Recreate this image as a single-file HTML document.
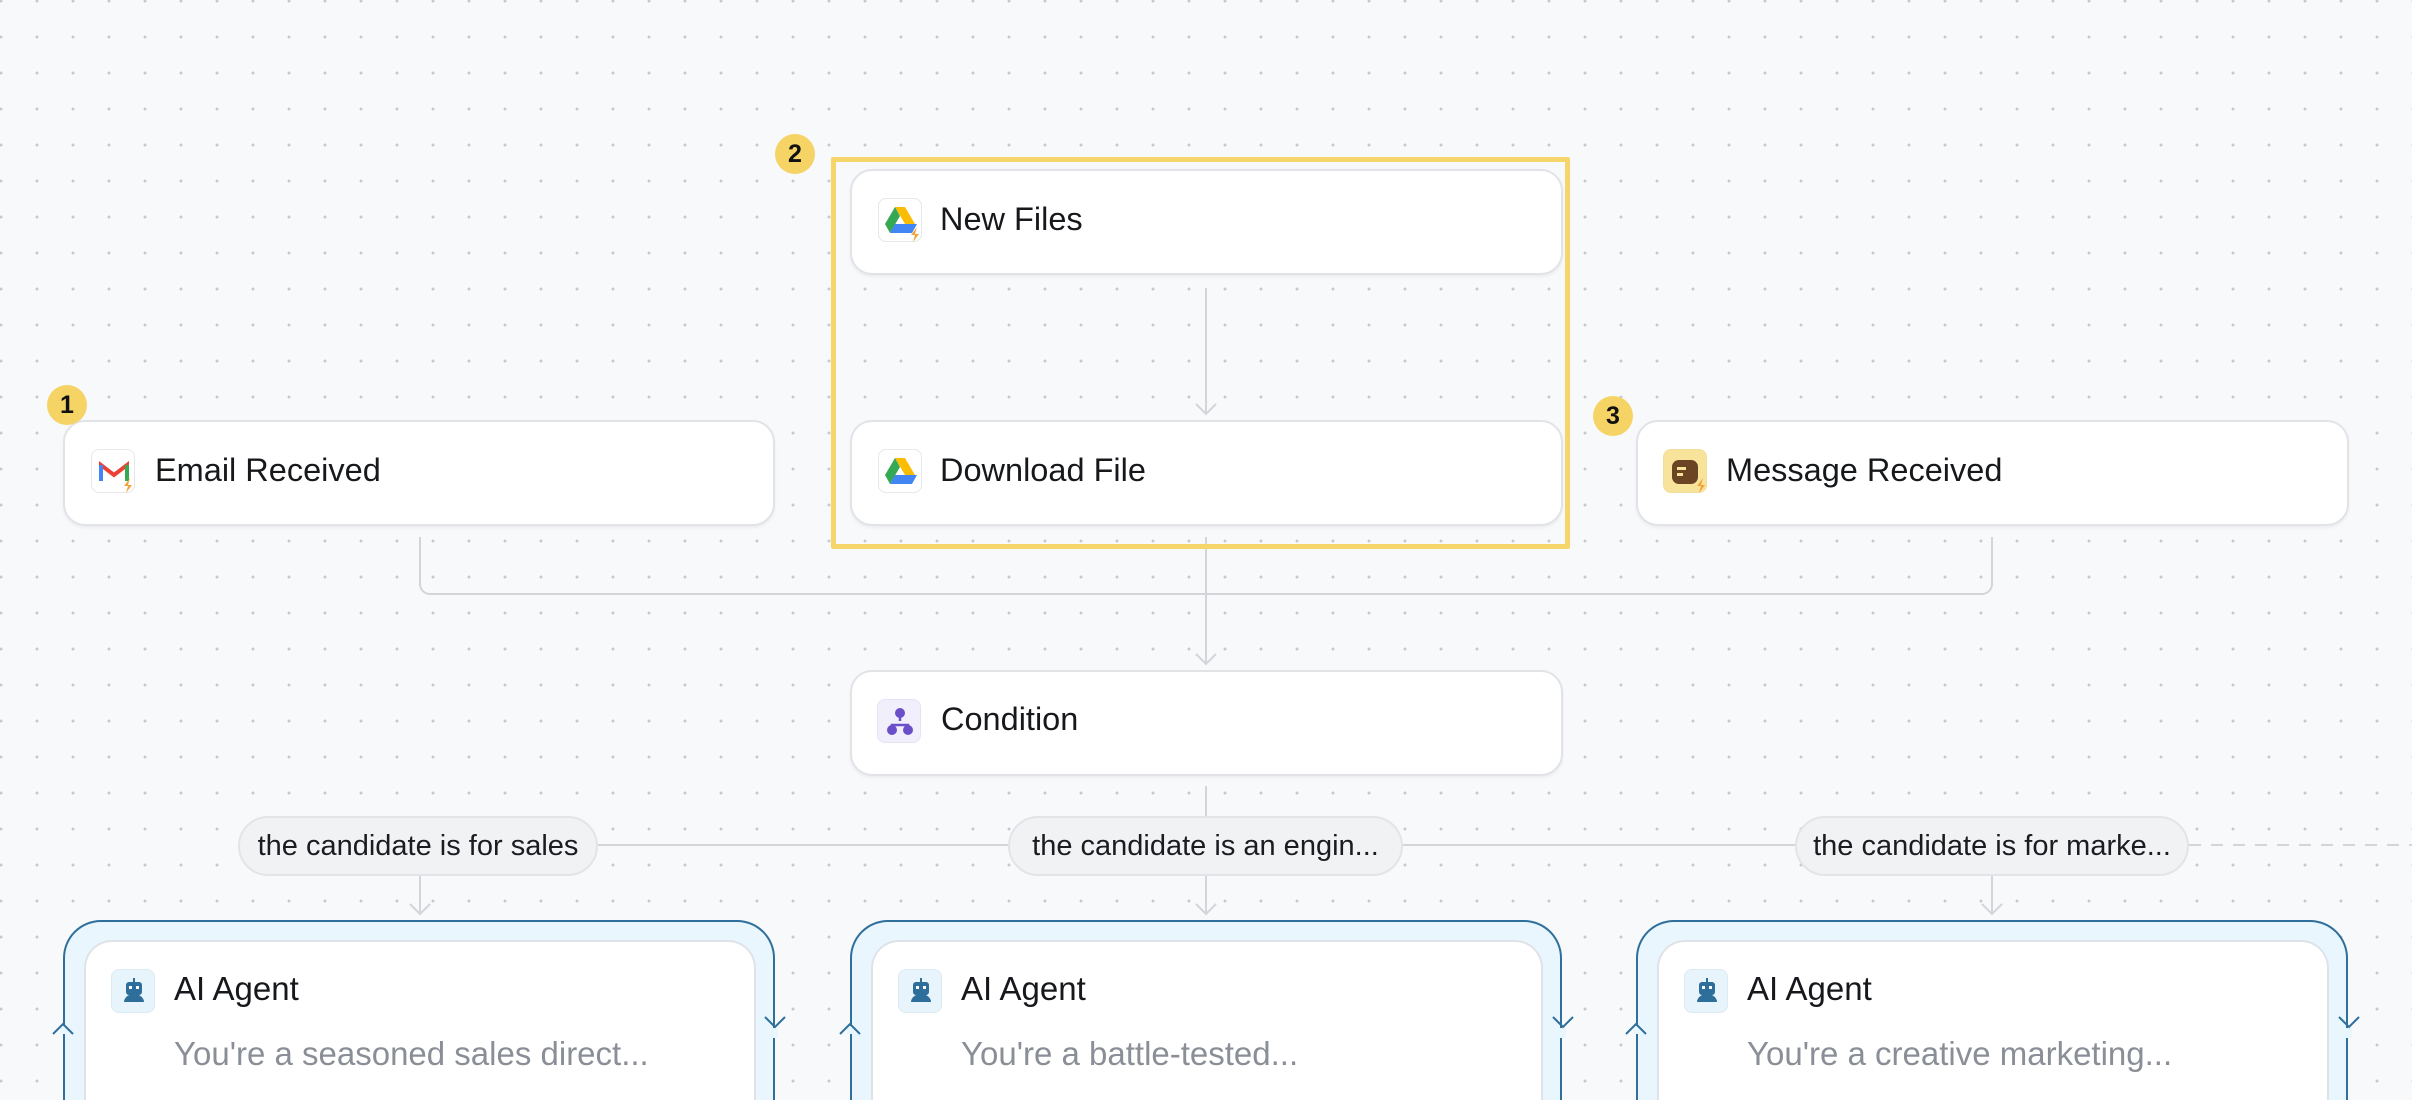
<!DOCTYPE html>
<html style="overflow:hidden;width:2412px;height:1100px"><head><meta charset="utf-8"><style>
*{margin:0;padding:0;box-sizing:border-box}
body{width:2412px;height:1100px;overflow:hidden;background:#f8f9fb;font-family:"Liberation Sans",sans-serif;position:relative}
#wrap{position:absolute;left:0;top:0;width:2412px;height:1100px;overflow:hidden;
background-image:radial-gradient(circle,#c5c9cf 1.3px,transparent 1.6px);background-size:36px 36px;background-position:-17px -17px}
.node{position:absolute;background:#fff;border:2px solid #e1e3e7;border-radius:22px;box-shadow:0 2px 3px rgba(0,0,0,.05)}
.t{position:absolute;font-size:32.5px;color:#16181c;white-space:nowrap}
.ic{position:absolute;width:44px;height:44px;border:1px solid #e6e8eb;border-radius:8px;background:#fff}
.badge{position:absolute;width:40px;height:40px;border-radius:50%;background:#f6d365;font-weight:bold;font-size:25px;text-align:center;line-height:40px;color:#111}
.pill{position:absolute;height:60px;border:2px solid #e2e4e7;background:#f1f2f4;border-radius:30px;font-size:29px;line-height:56px;text-align:center;color:#1a1c20;white-space:nowrap}
.grp{position:absolute;top:920px;width:712px;height:180px;border:2px solid #2f6f9b;border-bottom:none;border-radius:38px 38px 0 0;background:#e9f6fd}
.card{position:absolute;left:19px;top:18px;width:672px;height:160px;background:#fff;border:2px solid #dfe3e8;border-bottom:none;border-radius:28px 28px 0 0}
.sub{position:absolute;font-size:33px;color:#8a8f97;white-space:nowrap}
.ag{font-size:33px}
</style></head><body><div id="wrap">
<svg width="2412" height="1100" style="position:absolute;left:0;top:0" fill="none">
<g stroke="#d3d5d9" stroke-width="2">
<path d="M1206 288V414M1196 404l10 10 10-10"/>
<path d="M1206 537V664M1196 654l10 10 10-10"/>
<path d="M420 537V584a10 10 0 0 0 10 10H1206"/>
<path d="M1992 537V584a10 10 0 0 1-10 10H1206"/>
<path d="M1206 786V816"/>
<path d="M598 845H1008M1403 845H1795"/>
<path d="M2189 845H2412" stroke-dasharray="12 10"/>
<path d="M420 876V914M410 904l10 10 10-10"/>
<path d="M1206 876V914M1196 904l10 10 10-10"/>
<path d="M1992 876V914M1982 904l10 10 10-10"/>
</g>
</svg>
<div style="position:absolute;left:831px;top:157px;width:739px;height:392px;border:5px solid #f6d56a;border-radius:2px"></div>

<div class="node" style="left:63px;top:420px;width:712px;height:106px"></div>
<div class="ic" style="left:91px;top:449px"><svg width="44" height="44"><path d="M9 31V15l13 10 13-10v16" stroke="#ea4335" stroke-width="4" fill="none"/><path d="M9 15v16" stroke="#4285f4" stroke-width="4"/><path d="M35 15v16" stroke="#34a853" stroke-width="4"/><path d="M38 28l-6 8h4l-2 7 6-8h-4z" fill="#f3a33c"/></svg></div>
<div class="t" style="left:155px;top:452px">Email Received</div>
<div class="badge" style="left:47px;top:385px">1</div>

<div class="node" style="left:850px;top:169px;width:713px;height:106px"></div>
<div class="ic" style="left:878px;top:198px"><svg width="44" height="44"><path d="M16 8h10l10 17H26z" fill="#fbbc04"/><path d="M16 8L6 25l5 9 10-17z" fill="#34a853"/><path d="M11 34h22l5-9H16z" fill="#4285f4"/><path d="M38 28l-6 8h4l-2 7 6-8h-4z" fill="#f3a33c"/></svg></div>
<div class="t" style="left:940px;top:201px">New Files</div>
<div class="badge" style="left:775px;top:134px">2</div>

<div class="node" style="left:850px;top:420px;width:713px;height:106px"></div>
<div class="ic" style="left:878px;top:449px"><svg width="44" height="44"><path d="M16 8h10l10 17H26z" fill="#fbbc04"/><path d="M16 8L6 25l5 9 10-17z" fill="#34a853"/><path d="M11 34h22l5-9H16z" fill="#4285f4"/></svg></div>
<div class="t" style="left:940px;top:452px">Download File</div>

<div class="node" style="left:1636px;top:420px;width:713px;height:106px"></div>
<div class="ic" style="left:1663px;top:449px;background:#f8e39a;border-color:#f1de9a"><svg width="44" height="44"><rect x="8" y="10" width="26" height="24" rx="7" fill="#6b4424"/><rect x="13" y="17" width="9" height="3" fill="#f8e39a"/><rect x="13" y="23" width="6" height="3" fill="#f8e39a"/><path d="M39 28l-6 8h4l-2 7 6-8h-4z" fill="#f3a33c"/></svg></div>
<div class="t" style="left:1726px;top:452px">Message Received</div>
<div class="badge" style="left:1593px;top:396px">3</div>

<div class="node" style="left:850px;top:670px;width:713px;height:106px"></div>
<div class="ic" style="left:877px;top:699px;background:#f2effc;border-color:#e6e2f5"><svg width="44" height="44"><circle cx="22" cy="13" r="5" fill="#6a4fc9"/><circle cx="14" cy="30" r="5" fill="#6a4fc9"/><circle cx="30" cy="30" r="5" fill="#6a4fc9"/><path d="M22 13v8M14 30v-5h16v5" stroke="#6a4fc9" stroke-width="2.5" fill="none"/></svg></div>
<div class="t" style="left:941px;top:701px">Condition</div>

<div class="pill" style="left:238px;top:816px;width:360px">the candidate is for sales</div>
<div class="pill" style="left:1008px;top:816px;width:395px">the candidate is an engin...</div>
<div class="pill" style="left:1795px;top:816px;width:394px">the candidate is for marke...</div>

<div class="grp" style="left:63px"><div class="card"></div></div>
<div class="grp" style="left:850px"><div class="card"></div></div>
<div class="grp" style="left:1636px"><div class="card"></div></div>

<svg width="2412" height="1100" style="position:absolute;left:0;top:0" fill="none" stroke="#2f6f9b" stroke-width="2">
<g>
<rect x="60" y="1026" width="6" height="8" fill="#e9f6fd" stroke="none"/><path d="M53 1034l10-10 10 10"/>
<rect x="772" y="1028" width="6" height="10" fill="#e9f6fd" stroke="none"/><path d="M765 1017l10 10 10-10"/>
<rect x="847" y="1026" width="6" height="8" fill="#e9f6fd" stroke="none"/><path d="M840 1034l10-10 10 10"/>
<rect x="1560" y="1028" width="6" height="10" fill="#e9f6fd" stroke="none"/><path d="M1553 1017l10 10 10-10"/>
<rect x="1633" y="1026" width="6" height="8" fill="#e9f6fd" stroke="none"/><path d="M1626 1034l10-10 10 10"/>
<rect x="2346" y="1028" width="6" height="10" fill="#e9f6fd" stroke="none"/><path d="M2339 1017l10 10 10-10"/>
</g>
</svg>

<div class="ic" style="left:111px;top:969px;background:#e8f4fb;border-color:#dbeaf3"><svg width="44" height="44"><rect x="14" y="12" width="16" height="13" rx="3" fill="#2e6e9a"/><rect x="17" y="16" width="3" height="3" fill="#fff"/><rect x="24" y="16" width="3" height="3" fill="#fff"/><path d="M22 12V8" stroke="#2e6e9a" stroke-width="2"/><path d="M12 32a10 8 0 0 1 20 0z" fill="#2e6e9a"/></svg></div>
<div class="t ag" style="left:174px;top:970px">AI Agent</div>
<div class="sub" style="left:174px;top:1035px">You're a seasoned sales direct...</div>

<div class="ic" style="left:898px;top:969px;background:#e8f4fb;border-color:#dbeaf3"><svg width="44" height="44"><rect x="14" y="12" width="16" height="13" rx="3" fill="#2e6e9a"/><rect x="17" y="16" width="3" height="3" fill="#fff"/><rect x="24" y="16" width="3" height="3" fill="#fff"/><path d="M22 12V8" stroke="#2e6e9a" stroke-width="2"/><path d="M12 32a10 8 0 0 1 20 0z" fill="#2e6e9a"/></svg></div>
<div class="t ag" style="left:961px;top:970px">AI Agent</div>
<div class="sub" style="left:961px;top:1035px">You're a battle-tested...</div>

<div class="ic" style="left:1684px;top:969px;background:#e8f4fb;border-color:#dbeaf3"><svg width="44" height="44"><rect x="14" y="12" width="16" height="13" rx="3" fill="#2e6e9a"/><rect x="17" y="16" width="3" height="3" fill="#fff"/><rect x="24" y="16" width="3" height="3" fill="#fff"/><path d="M22 12V8" stroke="#2e6e9a" stroke-width="2"/><path d="M12 32a10 8 0 0 1 20 0z" fill="#2e6e9a"/></svg></div>
<div class="t ag" style="left:1747px;top:970px">AI Agent</div>
<div class="sub" style="left:1747px;top:1035px">You're a creative marketing...</div>
</div></body></html>
